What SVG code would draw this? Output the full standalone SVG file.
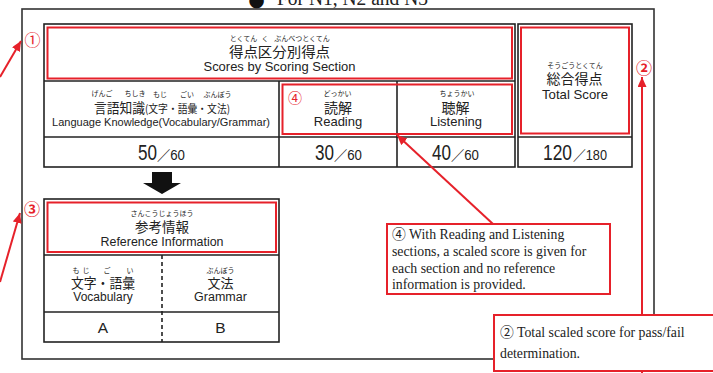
<svg xmlns="http://www.w3.org/2000/svg" width="713" height="373" viewBox="0 0 713 373">
<style>
.bg{fill:#ffffff}
.frame{fill:none;stroke:#333;stroke-width:1.6}
.cell{fill:#fff;stroke:#222;stroke-width:1.6}
.ln{stroke:#222;stroke-width:1.6;fill:none}
.dash{stroke:#222;stroke-width:1.6;stroke-dasharray:4 3;fill:none}
.redbox{fill:none;stroke:#e6212a;stroke-width:2}
.note{fill:#fff;stroke:#e6212a;stroke-width:2}
.con{stroke:#e6212a;stroke-width:2;fill:none}
.jp{font-family:"Noto Sans CJK JP","Liberation Sans",sans-serif;fill:#222}
.en{font-family:"Liberation Sans","Noto Sans CJK JP",sans-serif;fill:#222}
.ser{font-family:"Liberation Serif","Noto Sans CJK JP",serif;fill:#222}
.ruby{font-size:7px}
.big{font-size:14px}
.lbl{font-size:13px}
.num{font-size:22px}
.den{font-size:14px}
.mark{font-family:"Noto Sans CJK JP",sans-serif;fill:#e6212a}
</style>
<defs>
<marker id="ah" markerUnits="userSpaceOnUse" markerWidth="11" markerHeight="10" refX="10" refY="4.5" orient="auto">
<path d="M0,0 L10,4.5 L0,9 z" fill="#e6212a"/>
</marker>
</defs>
<rect class="bg" x="0" y="0" width="713" height="373"/>

<g id="title">
<text x="256.5" y="6" font-family="DejaVu Sans,sans-serif" font-size="19" text-anchor="middle" fill="#111">●</text>
<text class="ser" x="277" y="5" font-size="20" textLength="151" lengthAdjust="spacingAndGlyphs">For N1, N2 and N3</text>
</g>

<g id="frame">
<rect class="frame" x="22" y="9" width="632" height="350"/>
</g>

<g id="score-table">
<rect class="cell" x="44" y="24" width="471" height="143"/>
<line class="ln" x1="44" y1="81" x2="515" y2="81"/>
<line class="ln" x1="44" y1="137" x2="515" y2="137"/>
<line class="ln" x1="279" y1="81" x2="279" y2="167"/>
<line class="ln" x1="397" y1="81" x2="397" y2="167"/>
<rect class="cell" x="518" y="24" width="114" height="143"/>
<line class="ln" x1="518" y1="137" x2="632" y2="137"/>
</g>

<g id="header-section">
<rect class="redbox" x="47.5" y="27.5" width="464.5" height="51"/>
<text class="jp ruby" x="243.5" y="40.5" text-anchor="middle">とくてん</text>
<text class="jp ruby" x="265" y="40.5" text-anchor="middle">く</text>
<text class="jp ruby" x="302" y="40.5" text-anchor="middle">ぶんべつとくてん</text>
<text class="jp big" x="279.5" y="57" text-anchor="middle" textLength="101" lengthAdjust="spacingAndGlyphs">得点区分別得点</text>
<text class="en lbl" x="279.5" y="71" text-anchor="middle" textLength="152" lengthAdjust="spacingAndGlyphs">Scores by Scoring Section</text>
</g>

<g id="language-knowledge">
<text class="jp ruby" x="102" y="95.5" text-anchor="middle">げんご</text>
<text class="jp ruby" x="135" y="95.5" text-anchor="middle">ちしき</text>
<text class="jp ruby" x="160" y="96.5" text-anchor="middle">もじ</text>
<text class="jp ruby" x="187" y="96.5" text-anchor="middle">ごい</text>
<text class="jp ruby" x="217.5" y="96.5" text-anchor="middle">ぶんぽう</text>
<text class="jp" x="94" y="112.5" font-size="13.5" textLength="51" lengthAdjust="spacingAndGlyphs">言語知識</text>
<text class="jp" x="145" y="112.5" font-size="11" textLength="85" lengthAdjust="spacingAndGlyphs">(文字・語彙・文法)</text>
<text class="en" x="52" y="126" font-size="11.5" textLength="218" lengthAdjust="spacingAndGlyphs">Language Knowledge(Vocabulary/Grammar)</text>
<text class="en num" x="138" y="160" textLength="19" lengthAdjust="spacingAndGlyphs">50</text>
<text class="en den" x="157" y="160" textLength="28" lengthAdjust="spacingAndGlyphs">／60</text>
</g>

<g id="reading-listening">
<rect class="redbox" x="282.5" y="84.5" width="229.5" height="49.5"/>
<text class="mark" x="295" y="103" font-size="14" text-anchor="middle">④</text>
<text class="jp ruby" x="337.5" y="95.5" text-anchor="middle">どっかい</text>
<text class="jp big" x="338" y="112.5" text-anchor="middle" font-size="13.5">読解</text>
<text class="en lbl" x="338" y="126" text-anchor="middle">Reading</text>
<text class="en num" x="315" y="160" textLength="19" lengthAdjust="spacingAndGlyphs">30</text>
<text class="en den" x="334" y="160" textLength="28" lengthAdjust="spacingAndGlyphs">／60</text>
<text class="jp ruby" x="457" y="95.5" text-anchor="middle">ちょうかい</text>
<text class="jp big" x="455.5" y="112.5" text-anchor="middle" font-size="13.5">聴解</text>
<text class="en lbl" x="456" y="126" text-anchor="middle">Listening</text>
<text class="en num" x="432" y="160" textLength="19" lengthAdjust="spacingAndGlyphs">40</text>
<text class="en den" x="451" y="160" textLength="28" lengthAdjust="spacingAndGlyphs">／60</text>
</g>

<g id="total-score">
<rect class="redbox" x="521" y="27.5" width="108" height="106"/>
<text class="jp ruby" x="575" y="67.5" text-anchor="middle">そうごうとくてん</text>
<text class="jp big" x="574.5" y="84" text-anchor="middle" font-size="13.5">総合得点</text>
<text class="en lbl" x="575" y="99" text-anchor="middle" textLength="66" lengthAdjust="spacingAndGlyphs">Total Score</text>
<text class="en num" x="543" y="160" textLength="29" lengthAdjust="spacingAndGlyphs">120</text>
<text class="en den" x="573" y="160" textLength="34" lengthAdjust="spacingAndGlyphs">／180</text>
</g>

<g id="reference-table">
<rect class="cell" x="44" y="199" width="235" height="143"/>
<line class="ln" x1="44" y1="255" x2="279" y2="255"/>
<line class="ln" x1="44" y1="312" x2="279" y2="312"/>
<line class="dash" x1="162" y1="255" x2="162" y2="342"/>
<rect class="redbox" x="47.5" y="202.5" width="228.5" height="49.5"/>
<text class="jp ruby" x="162" y="215.5" text-anchor="middle">さんこうじょうほう</text>
<text class="jp" x="162" y="232" font-size="13.5" text-anchor="middle">参考情報</text>
<text class="en" x="162" y="246" font-size="12.5" text-anchor="middle" textLength="123" lengthAdjust="spacingAndGlyphs">Reference Information</text>
</g>

<g id="vocabulary">
<text class="jp ruby" x="76" y="272.5" text-anchor="middle">も</text>
<text class="jp ruby" x="86" y="272.5" text-anchor="middle">じ</text>
<text class="jp ruby" x="107" y="272.5" text-anchor="middle">ご</text>
<text class="jp ruby" x="130" y="272.5" text-anchor="middle">い</text>
<text class="jp" x="71" y="288" font-size="13.5" textLength="64" lengthAdjust="spacingAndGlyphs">文字・語彙</text>
<text class="en" x="103" y="301" font-size="12" text-anchor="middle">Vocabulary</text>
<text class="en" x="103" y="333" font-size="15.5" text-anchor="middle">A</text>
</g>

<g id="grammar">
<text class="jp ruby" x="220.5" y="272.5" text-anchor="middle">ぶんぽう</text>
<text class="jp" x="220.5" y="288" font-size="13" text-anchor="middle">文法</text>
<text class="en" x="220.5" y="301" font-size="12.5" text-anchor="middle">Grammar</text>
<text class="en" x="220.5" y="333" font-size="15.5" text-anchor="middle">B</text>
</g>

<g id="connectors">
<polygon points="152,172 172,172 172,183 181,183 162,194 143,183 152,183" fill="#111"/>
<line class="con" x1="0" y1="77" x2="21" y2="41" marker-end="url(#ah)"/>
<line class="con" x1="0" y1="282" x2="20" y2="213" marker-end="url(#ah)"/>
<line class="con" x1="642" y1="375" x2="642" y2="77" marker-end="url(#ah)"/>
<line class="con" x1="493" y1="224" x2="397" y2="135" marker-end="url(#ah)"/>
</g>

<g id="markers">
<text class="mark" x="32.5" y="46" font-size="16" text-anchor="middle">①</text>
<text class="mark" x="32" y="215" font-size="16" font-weight="bold" text-anchor="middle">③</text>
<text class="mark" x="644" y="74" font-size="16" font-weight="bold" text-anchor="middle">②</text>
</g>

<g id="note-4">
<rect class="note" x="387" y="224" width="223" height="70"/>
<text class="ser" x="392" y="239" font-size="13.8">④ With Reading and Listening</text>
<text class="ser" x="392" y="255.7" font-size="13.8">sections, a scaled score is given for</text>
<text class="ser" x="392" y="272.5" font-size="13.8">each section and no reference</text>
<text class="ser" x="392" y="289" font-size="13.8">information is provided.</text>
</g>

<g id="note-2">
<rect class="note" x="494" y="315" width="225" height="56"/>
<text class="ser" x="500" y="337" font-size="13.8">② Total scaled score for pass/fail</text>
<text class="ser" x="500" y="358" font-size="13.8">determination.</text>
</g>
</svg>
